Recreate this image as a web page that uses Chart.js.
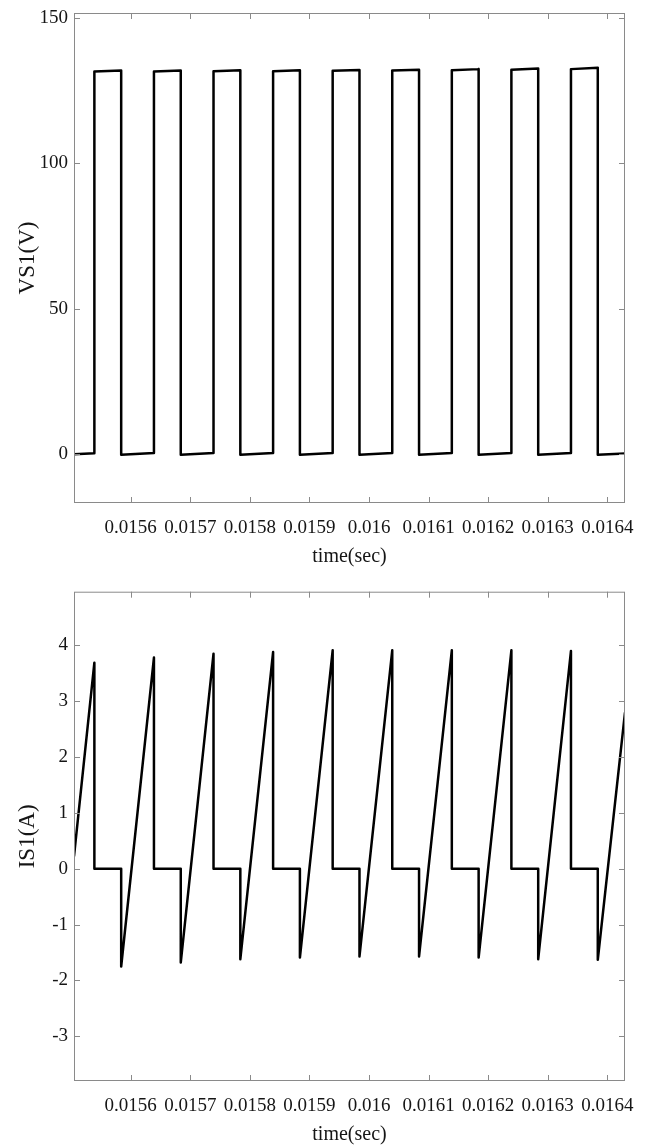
<!DOCTYPE html>
<html lang="en">
<head>
    <meta charset="UTF-8">
    <title>VS1 / IS1</title>
    <script src="https://cdn.jsdelivr.net/npm/chart.js"></script>
    <style>
        body { margin: 0; background: #fff; }
        .plot { position: absolute; left: 0; width: 646px; height: 567px; }
        #top-plot { top: 0; }
        #bottom-plot { top: 578px; }
    </style>
</head>
<body>
    <div class="plot" id="top-plot"><canvas id="vs-chart" width="646" height="567"></canvas></div>
    <div class="plot" id="bottom-plot"><canvas id="is-chart" width="646" height="567"></canvas></div>

    <script>
        // time axis (s)
        const timeMin = 0.0155048;
        const timeMax = 0.0164297;
        const timeTicks = [0.0156, 0.0157, 0.0158, 0.0159, 0.016, 0.0161, 0.0162, 0.0163, 0.0164];
        const timeTickLabels = ['0.0156', '0.0157', '0.0158', '0.0159', '0.016', '0.0161', '0.0162', '0.0163', '0.0164'];

        // switch voltage VS1 (V)
        const vsTime = [
            0.0155048,
            0.015539, 0.015539, 0.015584, 0.015584,
            0.015639, 0.015639, 0.015684, 0.015684,
            0.015739, 0.015739, 0.015784, 0.015784,
            0.015839, 0.015839, 0.015884, 0.015884,
            0.015939, 0.015939, 0.015984, 0.015984,
            0.016039, 0.016039, 0.016084, 0.016084,
            0.016139, 0.016139, 0.016184, 0.016184,
            0.016239, 0.016239, 0.016284, 0.016284,
            0.016339, 0.016339, 0.016384, 0.016384,
            0.0164297
        ];
        const vsValue = [
            0.0,
            0.3, 131.6, 131.9, -0.2,
            0.4, 131.6, 131.9, -0.2,
            0.4, 131.7, 132.0, -0.2,
            0.4, 131.7, 132.0, -0.2,
            0.4, 131.8, 132.1, -0.2,
            0.4, 131.9, 132.2, -0.2,
            0.4, 132.0, 132.4, -0.2,
            0.4, 132.2, 132.6, -0.2,
            0.4, 132.4, 132.9, -0.2,
            0.2
        ];
        const vsTicks = [0, 50, 100, 150];

        // switch current IS1 (A)
        const isTime = [
            0.0155048,
            0.015539, 0.015539, 0.015584, 0.015584,
            0.015639, 0.015639, 0.015684, 0.015684,
            0.015739, 0.015739, 0.015784, 0.015784,
            0.015839, 0.015839, 0.015884, 0.015884,
            0.015939, 0.015939, 0.015984, 0.015984,
            0.016039, 0.016039, 0.016084, 0.016084,
            0.016139, 0.016139, 0.016184, 0.016184,
            0.016239, 0.016239, 0.016284, 0.016284,
            0.016339, 0.016339, 0.016384, 0.016384,
            0.0164297
        ];
        const isValue = [
            0.22,
            3.69, 0, 0, -1.75,
            3.78, 0, 0, -1.68,
            3.85, 0, 0, -1.62,
            3.88, 0, 0, -1.59,
            3.91, 0, 0, -1.57,
            3.91, 0, 0, -1.57,
            3.91, 0, 0, -1.59,
            3.91, 0, 0, -1.62,
            3.90, 0, 0, -1.63,
            2.80
        ];
        const isTicks = [-3, -2, -1, 0, 1, 2, 3, 4];

        const FONT = 'Liberation Serif, Times New Roman, serif';
        const TEXT = '#151515';
        const BOX = '#8a8a8a';

        // MATLAB-style box with inward ticks on all four sides
        const boxPlugin = {
            id: 'box',
            afterDraw(chart) {
                const { ctx, chartArea: a, scales } = chart;
                const len = 6;
                ctx.save();
                ctx.strokeStyle = BOX;
                ctx.lineWidth = 1;
                ctx.strokeRect(a.left + 0.5, a.top + 0.5, a.right - a.left - 1, a.bottom - a.top - 1);
                ctx.beginPath();
                scales.x.ticks.forEach(t => {
                    const px = Math.round(scales.x.getPixelForValue(t.value)) + 0.5;
                    ctx.moveTo(px, a.bottom); ctx.lineTo(px, a.bottom - len);
                    ctx.moveTo(px, a.top); ctx.lineTo(px, a.top + len);
                });
                scales.y.ticks.forEach(t => {
                    const py = Math.round(scales.y.getPixelForValue(t.value)) + 0.5;
                    ctx.moveTo(a.left, py); ctx.lineTo(a.left + len, py);
                    ctx.moveTo(a.right, py); ctx.lineTo(a.right - len, py);
                });
                ctx.stroke();
                ctx.restore();
            }
        };

        function makeChart(id, times, values, yMin, yMax, yTicks, yTitle, padTop) {
            const points = times.map((t, i) => ({ x: t, y: values[i] }));
            return new Chart(document.getElementById(id), {
                type: 'line',
                data: {
                    datasets: [{
                        data: points,
                        borderColor: '#000',
                        borderWidth: 2.5,
                        borderJoinStyle: 'round',
                        pointRadius: 0,
                        tension: 0,
                        fill: false
                    }]
                },
                options: {
                    responsive: false,
                    animation: false,
                    devicePixelRatio: 1,
                    layout: { padding: { top: padTop, right: 21, left: 0, bottom: 0 } },
                    plugins: { legend: { display: false }, tooltip: { enabled: false } },
                    scales: {
                        x: {
                            type: 'linear',
                            min: timeMin,
                            max: timeMax,
                            afterBuildTicks: s => { s.ticks = timeTicks.map(v => ({ value: v })); },
                            afterFit: s => { s.height = 64; s.paddingLeft = 0; s.paddingRight = 0; },
                            grid: { display: false, drawTicks: false },
                            border: { display: false },
                            ticks: {
                                autoSkip: false,
                                maxRotation: 0,
                                padding: 14,
                                color: TEXT,
                                font: { family: FONT, size: 19 },
                                callback: (v, i) => timeTickLabels[i]
                            },
                            title: {
                                display: true,
                                text: 'time(sec)',
                                color: TEXT,
                                padding: { top: 0, bottom: 0 },
                                font: { family: FONT, size: 20, lineHeight: 1 }
                            }
                        },
                        y: {
                            type: 'linear',
                            min: yMin,
                            max: yMax,
                            afterBuildTicks: s => { s.ticks = yTicks.map(v => ({ value: v })); },
                            afterFit: s => { s.width = 74; s.paddingTop = 0; s.paddingBottom = 0; },
                            grid: { display: false, drawTicks: false },
                            border: { display: false },
                            ticks: {
                                padding: 6,
                                color: TEXT,
                                font: { family: FONT, size: 19 },
                                callback: v => String(v)
                            },
                            title: {
                                display: true,
                                text: yTitle,
                                color: TEXT,
                                padding: { top: 16, bottom: 0 },
                                font: { family: FONT, size: 23, lineHeight: 1 }
                            }
                        }
                    }
                },
                plugins: [boxPlugin]
            });
        }

        makeChart('vs-chart', vsTime, vsValue, -16.8, 151.7, vsTicks, 'VS1(V)', 13);
        makeChart('is-chart', isTime, isValue, -3.8, 4.96, isTicks, 'IS1(A)', 13.7);
    </script>
</body>
</html>
